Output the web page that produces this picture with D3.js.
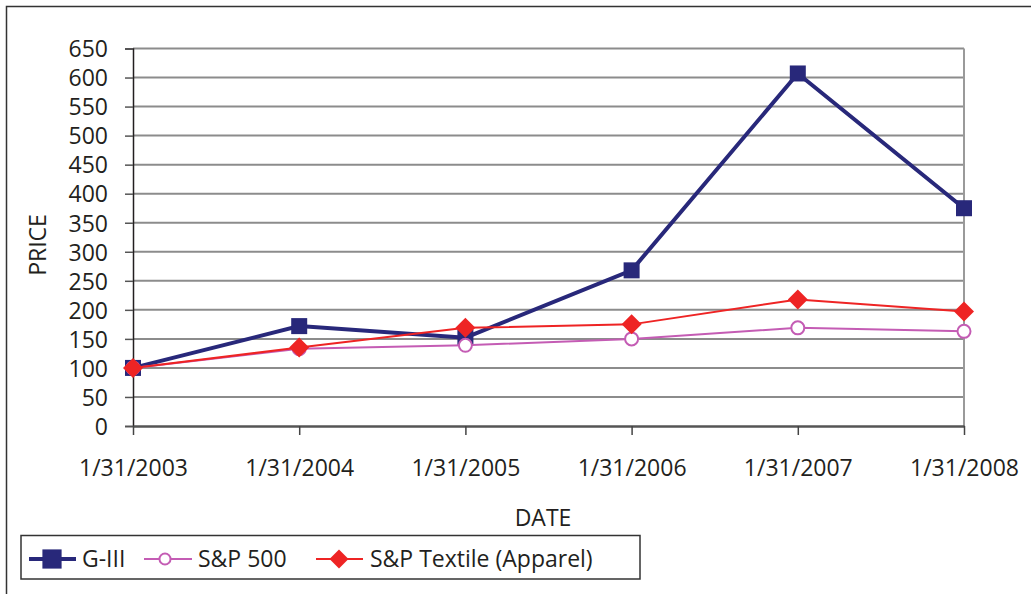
<!DOCTYPE html>
<html>
<head>
<meta charset="utf-8">
<script src="https://cdn.jsdelivr.net/npm/d3@7"></script>
<style>
  body { margin: 0; background: #fff; }
  svg text { font-family: "Open Sans", "Noto Sans", sans-serif; fill: #231f20; }
</style>
</head>
<body>
<div id="chart"></div>
<script>
var svgWidth = 1031;
var svgHeight = 594;

// Data
var dates = ["1/31/2003", "1/31/2004", "1/31/2005", "1/31/2006", "1/31/2007", "1/31/2008"];
var gIII = [100, 172, 152, 268, 607, 375];
var sp500 = [100, 133, 139, 150, 169, 163];
var spTextile = [100, 135, 169, 175, 218, 197];
var yTicks = [0, 50, 100, 150, 200, 250, 300, 350, 400, 450, 500, 550, 600, 650];

var plot = { left: 133, right: 964, top: 48.5, bottom: 426 };

var svg = d3.select("#chart")
  .append("svg")
  .attr("width", svgWidth)
  .attr("height", svgHeight);

// outer frame
svg.append("rect")
  .attr("x", 6.5).attr("y", 6.5)
  .attr("width", 1040).attr("height", 600)
  .attr("fill", "none")
  .attr("stroke", "#333")
  .attr("stroke-width", 1.5);

var x = d3.scalePoint()
  .domain(dates)
  .range([plot.left, plot.right]);

var y = d3.scaleLinear()
  .domain([0, 650])
  .range([plot.bottom, plot.top]);

// gridlines
svg.append("g")
  .selectAll("line")
  .data(yTicks.filter(d => d > 0))
  .enter()
  .append("line")
  .attr("x1", plot.left)
  .attr("x2", plot.right)
  .attr("y1", d => y(d))
  .attr("y2", d => y(d))
  .attr("stroke", "#8c8c8c")
  .attr("stroke-width", 2);

// right border of plot area
svg.append("line")
  .attr("x1", plot.right).attr("x2", plot.right)
  .attr("y1", plot.top).attr("y2", plot.bottom)
  .attr("stroke", "#9a9a9a")
  .attr("stroke-width", 2);

// y axis
var leftAxis = d3.axisLeft(y)
  .tickValues(yTicks)
  .tickSize(8)
  .tickPadding(17);

var yAxis = svg.append("g")
  .attr("transform", `translate(${plot.left}, 0)`)
  .call(leftAxis);
yAxis.select(".domain").attr("stroke", "#231f20").attr("stroke-width", 1.5);
yAxis.selectAll(".tick line").attr("stroke", "#555").attr("stroke-width", 1.5);
yAxis.selectAll("text")
  .attr("font-size", 23)
  .attr("dy", "0.36em")
  .style("fill", "#231f20");

// x axis
var bottomAxis = d3.axisBottom(x)
  .tickSize(9)
  .tickPadding(25)
  .tickSizeOuter(0);

var xAxis = svg.append("g")
  .attr("transform", `translate(0, ${plot.bottom})`)
  .call(bottomAxis);
xAxis.select(".domain").attr("stroke", "#555").attr("stroke-width", 2.5);
xAxis.selectAll(".tick line").attr("stroke", "#444").attr("stroke-width", 1.5);
xAxis.selectAll("text")
  .attr("font-size", 23)
  .style("fill", "#231f20");

// axis labels
svg.append("text")
  .attr("transform", "translate(46, 245) rotate(-90)")
  .attr("text-anchor", "middle")
  .attr("font-size", 23)
  .text("PRICE");

svg.append("text")
  .attr("x", 543)
  .attr("y", 526)
  .attr("text-anchor", "middle")
  .attr("font-size", 23)
  .text("DATE");

var series = [
  { name: "G-III", values: gIII, color: "#28287a", width: 4, marker: "square" },
  { name: "S&P 500", values: sp500, color: "#c45cb4", width: 2, marker: "circle" },
  { name: "S&P Textile (Apparel)", values: spTextile, color: "#ee2424", width: 2, marker: "diamond" }
];

var line = d3.line()
  .x((d, i) => x(dates[i]))
  .y(d => y(d));

function drawMarker(g, type, color, cx, cy, scale) {
  if (type === "square") {
    var s = 16 * scale;
    g.append("rect")
      .attr("x", cx - s / 2).attr("y", cy - s / 2)
      .attr("width", s).attr("height", s)
      .attr("fill", color);
  } else if (type === "circle") {
    g.append("circle")
      .attr("cx", cx).attr("cy", cy)
      .attr("r", 6.5 * scale)
      .attr("fill", "#fff")
      .attr("stroke", color)
      .attr("stroke-width", 2);
  } else {
    var h = 10 * scale;
    g.append("path")
      .attr("d", `M${cx},${cy - h}L${cx + h},${cy}L${cx},${cy + h}L${cx - h},${cy}Z`)
      .attr("fill", color);
  }
}

series.forEach(function(s) {
  var g = svg.append("g");
  g.append("path")
    .datum(s.values)
    .attr("d", line)
    .attr("fill", "none")
    .attr("stroke", s.color)
    .attr("stroke-width", s.width);
  s.values.forEach(function(v, i) {
    drawMarker(g, s.marker, s.color, x(dates[i]), y(v), 1);
  });
});

// legend
var legend = svg.append("g");
legend.append("rect")
  .attr("x", 21).attr("y", 535.5)
  .attr("width", 619).attr("height", 43.5)
  .attr("fill", "#fff")
  .attr("stroke", "#333")
  .attr("stroke-width", 1.5);

var legendPos = [
  { x1: 29, x2: 76, mx: 52, tx: 82 },
  { x1: 144, x2: 192, mx: 165, tx: 198 },
  { x1: 316, x2: 363, mx: 339, tx: 370 }
];

series.forEach(function(s, i) {
  var p = legendPos[i];
  var ly = 559;
  legend.append("line")
    .attr("x1", p.x1).attr("x2", p.x2)
    .attr("y1", ly).attr("y2", ly)
    .attr("stroke", s.color)
    .attr("stroke-width", s.width);
  drawMarker(legend, s.marker, s.color, p.mx, ly, s.marker === "square" ? 1.2 : (s.marker === "circle" ? 0.85 : 0.95));
  legend.append("text")
    .attr("x", p.tx)
    .attr("y", ly)
    .attr("dy", "0.36em")
    .attr("font-size", 23)
    .text(s.name);
});
</script>
</body>
</html>
